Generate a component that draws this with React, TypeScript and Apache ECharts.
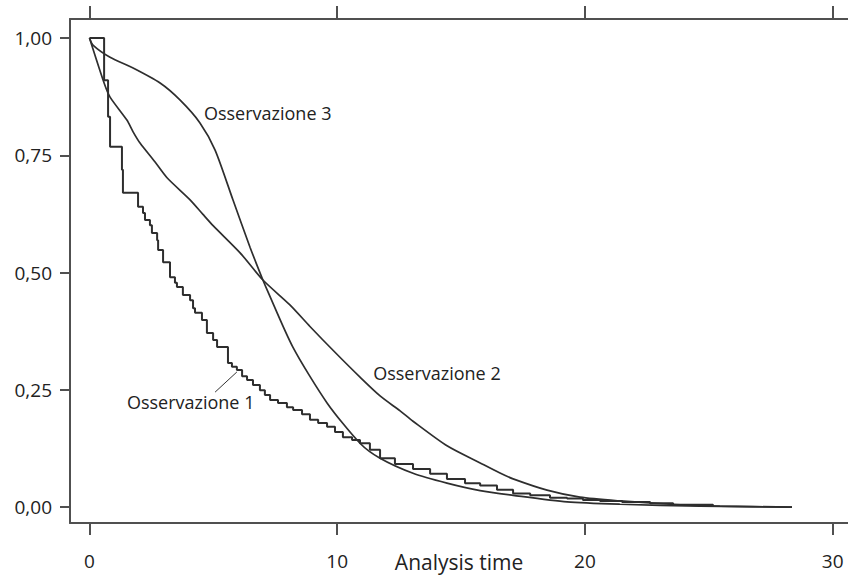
import React, { useEffect, useRef } from "react";
import * as echarts from "echarts";

// ---- Data ----
const X_TICKS = [0, 10, 20, 30];
const Y_TICKS = [0, 0.25, 0.5, 0.75, 1];

// Osservazione 1: Kaplan-Meier step curve
const obs1Time = [0, 0.59, 0.75, 0.83, 1.31, 1.35, 1.96, 2.16, 2.24, 2.44, 2.52, 2.73, 2.77, 2.97, 3.25, 3.45, 3.53, 3.77, 4.06, 4.18, 4.26, 4.54, 4.74, 4.99, 5.15, 5.59, 5.75, 5.95, 6.16, 6.36, 6.6, 6.88, 7.08, 7.29, 7.61, 7.97, 8.22, 8.58, 8.9, 9.23, 9.59, 9.91, 10.23, 10.6, 10.92, 11.32, 11.73, 12.33, 13.06, 13.75, 14.43, 15.16, 15.77, 16.45, 17.1, 17.79, 18.59, 19.28, 19.92, 20.61, 21.5, 22.63, 23.56, 25.17];
const obs1Surv = [1.0, 0.91, 0.832, 0.768, 0.719, 0.67, 0.64, 0.627, 0.612, 0.601, 0.584, 0.569, 0.548, 0.522, 0.49, 0.478, 0.469, 0.452, 0.441, 0.424, 0.414, 0.399, 0.371, 0.356, 0.341, 0.307, 0.299, 0.292, 0.279, 0.271, 0.26, 0.249, 0.239, 0.228, 0.222, 0.213, 0.207, 0.198, 0.186, 0.179, 0.171, 0.16, 0.149, 0.143, 0.136, 0.122, 0.104, 0.092, 0.081, 0.071, 0.06, 0.051, 0.046, 0.037, 0.029, 0.025, 0.02, 0.018, 0.015, 0.013, 0.011, 0.008, 0.005, 0.003];

// Osservazione 2
const obs2Time = [0, 0.59, 0.83, 1.51, 1.76, 2.04, 2.64, 3.13, 4.06, 4.58, 4.99, 6.08, 7.0, 8.09, 8.9, 9.91, 10.92, 11.73, 12.54, 13.06, 14.45, 15.77, 16.55, 17.1, 18.47, 19.8, 21.42, 23.44, 25.45, 28.36];
const obs2Surv = [1.0, 0.904, 0.874, 0.825, 0.8, 0.776, 0.736, 0.702, 0.655, 0.624, 0.6, 0.542, 0.484, 0.431, 0.385, 0.33, 0.277, 0.237, 0.205, 0.183, 0.13, 0.094, 0.073, 0.06, 0.036, 0.021, 0.013, 0.006, 0.002, 0.0];

// Osservazione 3
const obs3Time = [0, 0.14, 0.83, 1.76, 2.85, 3.65, 4.46, 5.07, 5.79, 6.48, 7.0, 7.17, 8.21, 9.59, 10.92, 11.73, 13.06, 14.43, 15.77, 17.1, 19.28, 21.42, 24.65, 28.36];
const obs3Surv = [1.0, 0.985, 0.959, 0.936, 0.904, 0.868, 0.819, 0.761, 0.655, 0.554, 0.484, 0.463, 0.341, 0.222, 0.136, 0.104, 0.072, 0.051, 0.035, 0.025, 0.011, 0.006, 0.002, 0.0];

// Annotation labels (data coordinates of the label's left/middle)
const labelTexts = ["Osservazione 1", "Osservazione 2", "Osservazione 3"];
const labelTimes = [1.51, 11.45, 4.62];
const labelSurvs = [0.224, 0.286, 0.84];
const leaderFrom = [5.07, 0.245];
const leaderTo = [5.95, 0.288];

const X_TITLE = "Analysis time";
const X_TITLE_AT = 14.92;

const FONT = '"Open Sans", "Noto Sans", sans-serif';
const CURVE = "#2e2e2e";
const AXIS = "#505050";

export default function App() {
  const ref = useRef<HTMLDivElement>(null);

  useEffect(() => {
    const el = ref.current;
    if (!el) return;
    const chart = echarts.init(el, null, { renderer: "svg", width: 848, height: 577 });
    const zip = (t: number[], s: number[]) => t.map((v, i) => [v, s[i]]);

    const xMin = -0.787;
    const xMax = 30.62;
    const yMin = -0.034;
    const yMax = 1.0405;

    const axisLineStyle = { color: AXIS, width: 2 };

    chart.setOption({
      animation: false,
      backgroundColor: "#ffffff",
      grid: { left: 70, right: 0, top: 19, bottom: 54, containLabel: false, outerBoundsMode: "none" },
      xAxis: [
        {
          type: "value",
          position: "bottom",
          min: xMin,
          max: xMax,
          axisLine: { show: true, onZero: false, lineStyle: axisLineStyle },
          axisTick: { show: true, length: 12, customValues: X_TICKS, lineStyle: axisLineStyle },
          axisLabel: {
            show: true,
            customValues: X_TICKS,
            margin: 28,
            fontSize: 19,
            color: "#222",
            fontFamily: FONT,
            formatter: (v: number) => String(Math.round(v)),
          },
          splitLine: { show: false },
        },
        {
          type: "value",
          position: "top",
          min: xMin,
          max: xMax,
          axisLine: { show: true, onZero: false, lineStyle: axisLineStyle },
          axisTick: { show: true, length: 13, customValues: X_TICKS, lineStyle: axisLineStyle },
          axisLabel: { show: false },
          splitLine: { show: false },
        },
      ],
      yAxis: {
        type: "value",
        min: yMin,
        max: yMax,
        axisLine: { show: true, onZero: false, lineStyle: axisLineStyle },
        axisTick: { show: true, length: 10, customValues: Y_TICKS, lineStyle: axisLineStyle },
        axisLabel: {
          show: true,
          customValues: Y_TICKS,
          margin: 18,
          fontSize: 19,
          color: "#222",
          fontFamily: FONT,
          formatter: (v: number) => v.toFixed(2).replace(".", ","),
        },
        splitLine: { show: false },
      },
      series: [
        {
          type: "line",
          name: labelTexts[0],
          data: zip(obs1Time, obs1Surv),
          step: "end",
          symbol: "none",
          lineStyle: { color: CURVE, width: 2 },
          z: 3,
        },
        {
          type: "line",
          name: labelTexts[1],
          data: zip(obs2Time, obs2Surv),
          smooth: 0.25,
          symbol: "none",
          lineStyle: { color: CURVE, width: 1.7 },
        },
        {
          type: "line",
          name: labelTexts[2],
          data: zip(obs3Time, obs3Surv),
          smooth: 0.25,
          symbol: "none",
          lineStyle: { color: CURVE, width: 1.7 },
        },
      ],
    });

    const toPx = (t: number, s: number) =>
      chart.convertToPixel({ xAxisIndex: 0, yAxisIndex: 0 }, [t, s]) as number[];

    const graphics: any[] = labelTexts.map((txt, i) => {
      const p = toPx(labelTimes[i], labelSurvs[i]);
      return {
        type: "text",
        x: p[0],
        y: p[1],
        style: {
          text: txt,
          fill: "#222",
          font: `18px ${FONT}`,
          textAlign: "left",
          textVerticalAlign: "middle",
        },
      };
    });
    const a = toPx(leaderFrom[0], leaderFrom[1]);
    const b = toPx(leaderTo[0], leaderTo[1]);
    graphics.push({
      type: "line",
      shape: { x1: a[0], y1: a[1], x2: b[0], y2: b[1] },
      style: { stroke: "#333", lineWidth: 1 },
    });
    graphics.push({
      type: "text",
      x: toPx(X_TITLE_AT, 0)[0],
      y: 562,
      style: {
        text: X_TITLE,
        fill: "#222",
        font: `21px ${FONT}`,
        textAlign: "center",
        textVerticalAlign: "middle",
      },
    });
    chart.setOption({ graphic: graphics });

    return () => chart.dispose();
  }, []);

  return (
    <div
      ref={ref}
      style={{ position: "fixed", left: 0, top: 0, width: 848, height: 577, background: "#fff" }}
    />
  );
}
